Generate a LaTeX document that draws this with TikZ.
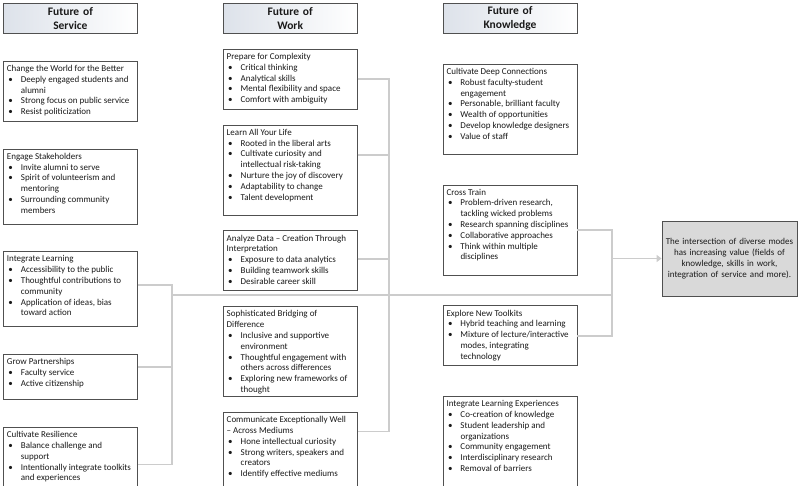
\documentclass[tikz,border=0pt]{standalone}
\usepackage{fontspec}
\setmainfont{Carlito}
\usepackage{xcolor}
\definecolor{cardbd}{HTML}{505050}
\definecolor{hdbg}{HTML}{DDE2EA}
\definecolor{linkc}{HTML}{CCCCCC}
\definecolor{resbg}{HTML}{D9D9D9}
\definecolor{textmain}{HTML}{1A1A1A}
\usetikzlibrary{arrows.meta, positioning}
\newcommand{\cardtext}[2]{\parbox[t][#1][t]{127pt}{\raggedright #2}}
\newcommand{\itm}[1]{\par\hangindent=14pt\hangafter=1\noindent\makebox[14pt][l]{\hspace{1.5pt}\textbullet}#1}

\begin{document}
\begin{tikzpicture}[
        x=1pt, y=-1pt,
        header/.style={
            rectangle,
            draw=cardbd,
            line width=0.8pt,
            left color=hdbg,
            right color=white,
            text width=127pt,
            align=center,
            minimum width=134pt,
            minimum height=30pt,
            inner sep=0pt,
            font=\fontsize{11.5}{13.5}\selectfont\bfseries\color{textmain}
        },
        card/.style={
            rectangle,
            draw=cardbd,
            line width=0.8pt,
            fill=white,
            inner xsep=3.5pt,
            inner ysep=4pt,
            font=\fontsize{9}{10.8}\selectfont\color{textmain}
        },
        result/.style={
            rectangle,
            draw=cardbd,
            line width=0.8pt,
            fill=resbg,
            text width=129pt,
            align=center,
            minimum width=135pt,
            minimum height=75pt,
            inner sep=0pt,
            font=\fontsize{9}{11}\selectfont\color{textmain}
        },
        link/.style={
            draw=linkc,
            line width=1.8pt
        },
        tip/.style={
            -{Triangle[length=5pt, width=7pt]}
        }
    ]
    \useasboundingbox (0,0) rectangle (800,485);

    % Headers
    \node[header, anchor=north west] (hserv) at (3,3) {Future of\\Service};
    \node[header, right=85pt of hserv] (hwork) {Future of\\Work};
    \node[header, right=85pt of hwork] (hknow) {Future of\\Knowledge};

    % Service column
    \node[card, below=27pt of hserv] (change) {\cardtext{52pt}{Change the World for the Better
        \itm{Deeply engaged students and alumni}
        \itm{Strong focus on public service}
        \itm{Resist politicization}}};
    \node[card, below=27pt of change] (engage) {\cardtext{67pt}{Engage Stakeholders
        \itm{Invite alumni to serve}
        \itm{Spirit of volunteerism and mentoring}
        \itm{Surrounding community members}}};
    \node[card, below=27pt of engage] (intlearn) {\cardtext{67pt}{Integrate Learning
        \itm{Accessibility to the public}
        \itm{Thoughtful contributions to community}
        \itm{Application of ideas, bias toward action}}};
    \node[card, below=27pt of intlearn] (grow) {\cardtext{37pt}{Grow Partnerships
        \itm{Faculty service}
        \itm{Active citizenship}}};
    \node[card, below=27pt of grow] (resil) {\cardtext{52pt}{Cultivate Resilience
        \itm{Balance challenge and\newline support}
        \itm{Intentionally integrate toolkits and experiences}}};

    % Work column
    \node[card, below=15pt of hwork] (prep) {\cardtext{52pt}{Prepare for Complexity
        \itm{Critical thinking}
        \itm{Analytical skills}
        \itm{Mental flexibility and space}
        \itm{Comfort with ambiguity}}};
    \node[card, below=15pt of prep] (learn) {\cardtext{82pt}{Learn All Your Life
        \itm{Rooted in the liberal arts}
        \itm{Cultivate curiosity and intellectual risk-taking}
        \itm{Nurture the joy of discovery}
        \itm{Adaptability to change}
        \itm{Talent development}}};
    \node[card, below=15pt of learn] (analyze) {\cardtext{52pt}{Analyze Data – Creation Through Interpretation
        \itm{Exposure to data analytics}
        \itm{Building teamwork skills}
        \itm{Desirable career skill}}};
    \node[card, below=15pt of analyze] (bridge) {\cardtext{82pt}{Sophisticated Bridging of Difference
        \itm{Inclusive and supportive environment}
        \itm{Thoughtful engagement with others across differences}
        \itm{Exploring new frameworks of thought}}};
    \node[card, below=15pt of bridge] (comm) {\cardtext{67pt}{Communicate Exceptionally Well\newline – Across Mediums
        \itm{Hone intellectual curiosity}
        \itm{Strong writers, speakers and creators}
        \itm{Identify effective mediums}}};

    % Knowledge column
    \node[card, below=30pt of hknow] (deep) {\cardtext{82pt}{Cultivate Deep Connections
        \itm{Robust faculty-student engagement}
        \itm{Personable, brilliant faculty}
        \itm{Wealth of opportunities}
        \itm{Develop knowledge designers}
        \itm{Value of staff}}};
    \node[card, below=30pt of deep] (cross) {\cardtext{82pt}{Cross Train
        \itm{Problem-driven research, tackling wicked problems}
        \itm{Research spanning disciplines}
        \itm{Collaborative approaches}
        \itm{Think within multiple disciplines}}};
    \node[card, below=30pt of cross] (toolkits) {\cardtext{52pt}{Explore New Toolkits
        \itm{Hybrid teaching and learning}
        \itm{Mixture of lecture/interactive\newline modes, integrating\newline technology}}};
    \node[card, below=30pt of toolkits] (intexp) {\cardtext{82pt}{Integrate Learning Experiences
        \itm{Co-creation of knowledge}
        \itm{Student leadership and organizations}
        \itm{Community engagement}
        \itm{Interdisciplinary research}
        \itm{Removal of barriers}}};

    % Result
    \node[result] (result) at (729.5,258.5) {The intersection of diverse modes\\ has increasing value (fields of\\ knowledge, skills in work,\\ integration of service and more).};

    % Junctions
    \coordinate (jl) at (172,295);
    \coordinate (jm) at (389,295);
    \coordinate (jr) at (612,295);
    \coordinate (intlearn-r) at ([yshift=4.5pt]intlearn.east);
    \coordinate (grow-r) at ([yshift=10.5pt]grow.east);
    \coordinate (resil-r) at ([yshift=-7pt]resil.east);
    \coordinate (learn-r) at ([yshift=15pt]learn.east);
    \coordinate (analyze-r) at ([yshift=2pt]analyze.east);
    \coordinate (comm-r) at ([yshift=18.5pt]comm.east);

    % Connectors
    \draw[link] (intlearn-r) -| (resil-r -| jl) -- (resil-r);
    \draw[link] (grow-r) -- (grow-r -| jl);
    \draw[link] (prep.east) -| (comm-r -| jm) -- (comm-r);
    \draw[link] (learn-r) -- (learn-r -| jm);
    \draw[link] (analyze-r) -- (analyze-r -| jm);
    \draw[link] (cross.east) -| (toolkits.east -| jr) -- (toolkits.east);
    \draw[link] (jl) -- (jr);
    \draw[link, tip] (jr |- result.west) -- (result.west);

    \end{tikzpicture}
\end{document}
